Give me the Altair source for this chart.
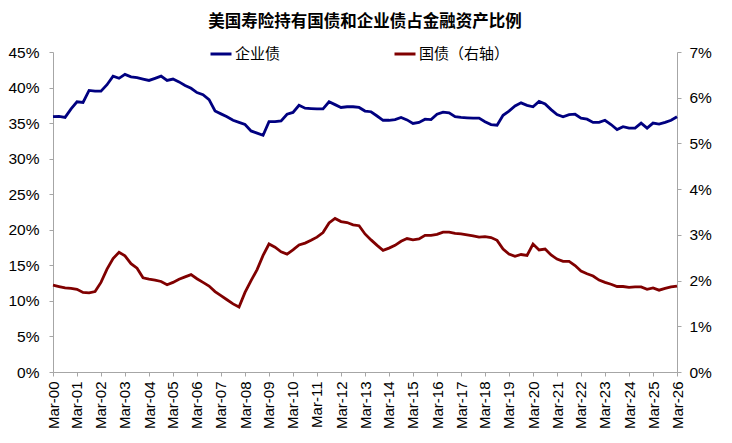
import altair as alt
import pandas as pd

# 企业债占比（左轴，%），季度 Mar-00 ~ Mar-26
corp = [35.9, 35.95, 35.8, 37.0, 38.0, 37.9, 39.6, 39.5, 39.5, 40.4,
        41.6, 41.3, 41.85, 41.5, 41.4, 41.2, 41.0, 41.3, 41.6, 41.0,
        41.2, 40.8, 40.3, 39.9, 39.3, 39.0, 38.3, 36.7, 36.3, 35.9,
        35.4, 35.1, 34.8, 33.9, 33.6, 33.3, 35.2, 35.2, 35.3, 36.25,
        36.5, 37.5, 37.1, 37.05, 37.0, 37.0, 38.0, 37.6, 37.2, 37.3,
        37.3, 37.2, 36.7, 36.6, 36.0, 35.4, 35.4, 35.5, 35.8, 35.45,
        34.95, 35.1, 35.55, 35.5, 36.25, 36.55, 36.45, 35.9, 35.8, 35.75,
        35.7, 35.7, 35.2, 34.8, 34.7, 36.1, 36.7, 37.4, 37.85, 37.5,
        37.3, 38.05, 37.7, 36.9, 36.2, 35.9, 36.2, 36.25, 35.7, 35.55,
        35.1, 35.1, 35.4, 34.8, 34.1, 34.5, 34.3, 34.3, 35.0, 34.3,
        35.0, 34.85, 35.1, 35.4, 35.9]

# 国债占比（右轴，%）
treas = [1.90, 1.87, 1.84, 1.83, 1.81, 1.74, 1.73, 1.76, 1.96, 2.25,
         2.48, 2.62, 2.54, 2.37, 2.27, 2.06, 2.03, 2.01, 1.98, 1.91,
         1.96, 2.03, 2.08, 2.13, 2.04, 1.96, 1.88, 1.76, 1.67, 1.58,
         1.49, 1.42, 1.74, 2.00, 2.24, 2.55, 2.80, 2.73, 2.63, 2.58,
         2.67, 2.78, 2.82, 2.88, 2.95, 3.05, 3.26, 3.36, 3.29, 3.27,
         3.22, 3.20, 3.02, 2.89, 2.77, 2.66, 2.71, 2.77, 2.86, 2.92,
         2.89, 2.91, 2.99, 2.99, 3.01, 3.06, 3.06, 3.03, 3.02, 3.00,
         2.98, 2.95, 2.96, 2.94, 2.88, 2.69, 2.58, 2.53, 2.57, 2.55,
         2.80, 2.67, 2.69, 2.56, 2.47, 2.42, 2.42, 2.33, 2.21, 2.15,
         2.10, 2.01, 1.96, 1.92, 1.87, 1.87, 1.85, 1.86, 1.86, 1.81,
         1.84, 1.79, 1.83, 1.86, 1.88]

series = ["企业债", "国债（右轴）"]
colors = ["#000080", "#800000"]
dates = pd.date_range("2000-03-01", periods=len(corp), freq="3MS").strftime("%Y-%m-%d").tolist()
tick_years = list(range(2000, 2027))
left_ticks = [0, 5, 10, 15, 20, 25, 30, 35, 40, 45]
right_ticks = [0, 1, 2, 3, 4, 5, 6, 7]

df = pd.DataFrame({
    "date": dates + dates,
    "value": corp + treas,
    "series": [series[0]] * len(corp) + [series[1]] * len(treas),
})

LATIN = "Liberation Sans, Arial, Noto Sans CJK SC"
CJK = "Noto Sans CJK SC"
GRAY = "#a6a6a6"

x_enc = alt.X(
    "date:T",
    scale=alt.Scale(
        type="utc",
        domain=[alt.DateTime(year=2000, month=3, date=1, utc=True),
                alt.DateTime(year=2026, month=3, date=1, utc=True)],
    ),
    axis=alt.Axis(
        title=None,
        values=[alt.DateTime(year=y, month=3, date=1, utc=True) for y in tick_years],
        labelExpr="utcFormat(datum.value, '%b-%y')",
        labelAngle=270,
        labelFontSize=15,
        labelPadding=5,
        labelOverlap=False,
        labelFlush=False,
        grid=False,
    ),
)

color_enc = alt.Color(
    "series:N",
    scale=alt.Scale(domain=series, range=colors),
    legend=alt.Legend(
        title=None,
        orient="none",
        legendX=156,
        legendY=-10,
        direction="horizontal",
        symbolType="stroke",
        symbolSize=441,
        symbolStrokeWidth=3,
        labelFont=CJK,
        labelFontSize=15,
        labelColor="#000000",
        labelOffset=2,
        columnPadding=107,
    ),
)

base = alt.Chart(df).encode(x=x_enc, color=color_enc)

left = base.transform_filter(alt.datum.series == series[0]).mark_line(strokeWidth=2.8).encode(
    y=alt.Y(
        "value:Q",
        scale=alt.Scale(domain=[0, 45], nice=False, zero=True),
        axis=alt.Axis(orient="left", title=None, values=left_ticks,
                      labelExpr="datum.value + '%'", labelPadding=10, grid=False),
    )
)

right = base.transform_filter(alt.datum.series == series[1]).mark_line(strokeWidth=2.8).encode(
    y=alt.Y(
        "value:Q",
        scale=alt.Scale(domain=[0, 7], nice=False, zero=True),
        axis=alt.Axis(orient="right", title=None, values=right_ticks,
                      labelExpr="datum.value + '%'", labelPadding=8, grid=False),
    )
)

chart = (
    alt.layer(left, right)
    .resolve_scale(y="independent")
    .properties(
        width=624,
        height=320,
        title=alt.TitleParams(
            "美国寿险持有国债和企业债占金融资产比例",
            font=CJK,
            fontSize=16.5,
            fontWeight="bold",
            color="#000000",
            anchor="middle",
            offset=12,
        ),
        autosize=alt.AutoSizeParams(type="none"),
        padding={"left": 45, "top": 44, "right": 45, "bottom": 60},
    )
    .configure_view(strokeWidth=0)
    .configure_axis(
        domainColor=GRAY,
        tickColor=GRAY,
        tickSize=4,
        labelFont=LATIN,
        labelFontSize=15.5,
        labelColor="#000000",
    )
)

chart.save("out.html", embed_options={"renderer": "svg", "actions": False})
